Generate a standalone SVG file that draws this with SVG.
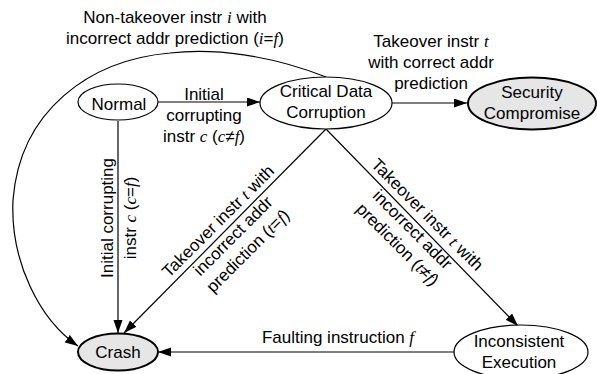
<svg xmlns="http://www.w3.org/2000/svg" width="597" height="374" viewBox="0 0 597 374">
<style>
  .node { fill: #ffffff; stroke: #000000; stroke-width: 1.2; }
  .term { fill: #e6e6e6; stroke: #000000; stroke-width: 2; }
  .edge { fill: none; stroke: #000000; stroke-width: 1.2; marker-end: url(#arrow); }
  text { font-family: "Liberation Sans", Arial, Helvetica, sans-serif; font-size: 17px; fill: #000000; text-anchor: middle; }
  .v { font-family: "Liberation Serif", "Times New Roman", serif; font-style: italic; }
</style>
<defs>
  <marker id="arrow" markerUnits="userSpaceOnUse" markerWidth="14" markerHeight="10" refX="13" refY="4.5" orient="auto">
    <path d="M0,0 L13,4.5 L0,9 Z" fill="#000000"/>
  </marker>
</defs>
<rect x="0" y="0" width="597" height="374" fill="#ffffff"/>

<g id="connectors">
  <path class="edge" d="M158,102 L260,102"/>
  <path class="edge" d="M392,103 L467,103"/>
  <path class="edge" d="M118,121 L118,333"/>
  <path class="edge" d="M326,129 L124,333"/>
  <path class="edge" d="M326,129 L518,326"/>
  <path class="edge" d="M455,352 L158,352"/>
  <path class="edge" d="M326,77 C270,55 215,48 170,53 C90,60 20,110 13,200 C10,262 40,320 78,346"/>

  <text x="175" y="23">Non-takeover instr <tspan class="v">i</tspan> with</text>
  <text x="175" y="44">incorrect addr prediction (<tspan class="v">i</tspan>=<tspan class="v">f</tspan>)</text>

  <text x="204" y="100">Initial</text>
  <text x="204" y="121">corrupting</text>
  <text x="204" y="142">instr <tspan class="v">c</tspan> (<tspan class="v">c</tspan>≠<tspan class="v">f</tspan>)</text>

  <text x="431" y="47">Takeover instr <tspan class="v">t</tspan></text>
  <text x="431" y="68">with correct addr</text>
  <text x="431" y="89">prediction</text>

  <g transform="translate(113,218) rotate(-90)">
    <text x="0" y="0">Initial corrupting</text>
    <text x="0" y="23">instr <tspan class="v">c</tspan> (<tspan class="v">c</tspan>=<tspan class="v">f</tspan>)</text>
  </g>

  <g transform="translate(233.5,236.5) rotate(-45)">
    <text x="0" y="-16">Takeover instr <tspan class="v">t</tspan> with</text>
    <text x="0" y="5">incorrect addr</text>
    <text x="0" y="26">prediction (<tspan class="v">t</tspan>=<tspan class="v">f</tspan>)</text>
  </g>

  <g transform="translate(412,230) rotate(45)">
    <text x="0" y="-16">Takeover instr <tspan class="v">t</tspan> with</text>
    <text x="0" y="5">incorrect addr</text>
    <text x="0" y="26">prediction (<tspan class="v">t</tspan>≠<tspan class="v">f</tspan>)</text>
  </g>

  <text x="338" y="343">Faulting instruction <tspan class="v">f</tspan></text>
</g>

<g id="normal">
  <ellipse class="node" cx="118" cy="102" rx="40" ry="18"/>
  <text x="119" y="110">Normal</text>
</g>

<g id="critical-data-corruption">
  <ellipse class="node" cx="326" cy="103" rx="66" ry="26"/>
  <text x="326" y="97">Critical Data</text>
  <text x="326" y="118">Corruption</text>
</g>

<g id="security-compromise">
  <ellipse class="term" cx="532" cy="103.5" rx="64" ry="26"/>
  <text x="532" y="98">Security</text>
  <text x="532" y="119">Compromise</text>
</g>

<g id="crash">
  <ellipse class="term" cx="118" cy="352" rx="40" ry="18.5"/>
  <text x="118" y="358">Crash</text>
</g>

<g id="inconsistent-execution">
  <ellipse class="node" cx="521" cy="352" rx="67" ry="27"/>
  <text x="519" y="347">Inconsistent</text>
  <text x="519" y="368">Execution</text>
</g>
</svg>
